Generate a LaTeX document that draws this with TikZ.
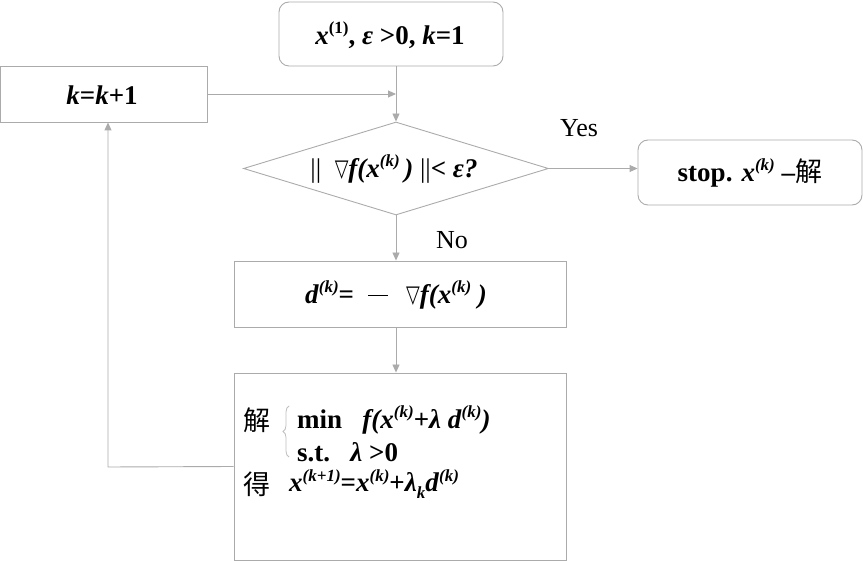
\documentclass[tikz,border=0pt]{standalone}
\usepackage{fontspec}
\setmainfont{Liberation Serif}
\newfontfamily\cjk{Noto Sans CJK SC}
\newfontfamily\djv{DejaVu Sans}
\usetikzlibrary{arrows.meta,shapes.geometric,decorations.pathreplacing}
\newcommand\bi[1]{\textbf{\textit{#1}}}
\newcommand\up[1]{\raisebox{0.40em}{\fontsize{17}{17}\selectfont\bfseries\itshape #1}}
\newcommand\upr[1]{\raisebox{0.40em}{\fontsize{17}{17}\selectfont\bfseries #1}}
\newcommand\nab{\raisebox{0.05em}{\djv\fontsize{21}{21}\selectfont\scalebox{0.85}[1.15]{▽}}}
\begin{document}
\begin{tikzpicture}[x=1pt,y=-1pt,
  every node/.style={font=\fontsize{27}{32}\selectfont},
  line/.style={draw=black!33, line width=0.9pt},
  rbox/.style={line, rounded corners=10pt, fill=white, inner sep=0pt},
  sbox/.style={line, fill=white, inner sep=0pt},
  arr/.style={line, -{Triangle[length=8pt,width=7pt]}, black!33},
  lbl/.style={font=\fontsize{26}{30}\selectfont}
]
\useasboundingbox (0,0) rectangle (863,561);
\node[rbox, minimum width=224pt, minimum height=64pt] (start) at (391,34) {};
\node (starttxt) at (390,35) {\textbf{\bi{x}\upr{(1)}, \bi{ε} >0, \bi{k}=1}};
\node[sbox, minimum width=207pt, minimum height=56pt] (kbox) at (104,94) {};
\node (ktxt) at (102,95) {\bi{k}\textbf{=}\bi{k}\textbf{+1}};
\node[diamond, line, inner sep=0pt, minimum width=305pt, minimum height=93pt] (dia) at (396,168.5) {};
\node (diatxt) at (394,169) {||\ \ \nab\bi{f(x}\up{(k)}\bi{\,)} ||\textbf{<} \bi{ε?}};
\node[rbox, minimum width=224pt, minimum height=65pt] (stop) at (750,172.5) {};
\node (stoptxt) at (750,173) {\textbf{stop.} \bi{x}\up{(k)} \textbf{–}{\cjk 解}};
\node[sbox, minimum width=332pt, minimum height=66pt] (dbox) at (400,294) {};
\node (dtxt) at (396,295) {\bi{d}\up{(k)}\textbf{=}\hspace{14pt}\rule[0.27em]{20pt}{1.1pt}\hspace{18pt}\nab\bi{f(x}\up{(k)}\bi{\ )}};
\node[sbox, minimum width=332pt, minimum height=187pt] (fbox) at (400,466.5) {};
\node[anchor=west, inner sep=0pt] (jie) at (243,420) {\cjk 解};
\node[anchor=west, inner sep=0pt] (minl) at (297,420) {\textbf{min}\ \ \ \bi{f(x}\up{(k)}\textbf{+}\bi{λ d}\up{(k)}\bi{)}};
\node[anchor=west, inner sep=0pt] (stl) at (297,452) {\textbf{s.t.}\ \ \ \bi{λ} \textbf{>0}};
\node[anchor=west, inner sep=0pt] (de) at (243,484) {\cjk 得};
\node[anchor=west, inner sep=0pt] (upd) at (289,484) {\bi{x}\up{(k+1)}\textbf{=}\bi{x}\up{(k)}\textbf{+}\bi{λ}\raisebox{-0.25em}{\fontsize{17}{17}\selectfont\bfseries\itshape k}\bi{d}\up{(k)}};
\draw[decorate, decoration={brace, amplitude=6pt}, draw=black!25, line width=0.8pt] (289,457) -- (289,406);
\node[lbl] (yes) at (579,128) {Yes};
\node[lbl] (no) at (452,240) {No};
\draw[arr] (dia.north |- start.south) -- (dia.north);
\draw[arr] (kbox.east) -- (kbox.east -| dia.north);
\draw[arr] (dia.east) -- (dia.east -| stop.west);
\draw[arr] (dia.south) -- (dia.south |- dbox.north);
\draw[arr] (dia.south |- dbox.south) -- (dia.south |- fbox.north);
\coordinate (corner) at (108,467);
\draw[arr] (fbox.west) -- (corner) -- (corner |- kbox.south);
\end{tikzpicture}
\end{document}
